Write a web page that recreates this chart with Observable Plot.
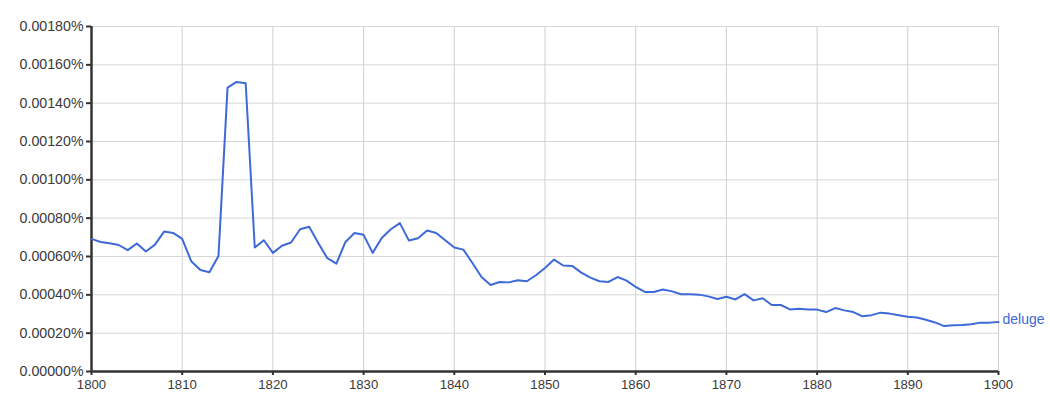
<!DOCTYPE html>
<html>
<head>
<meta charset="utf-8">
<script src="https://cdn.jsdelivr.net/npm/d3@7"></script>
<script src="https://cdn.jsdelivr.net/npm/@observablehq/plot@0.6"></script>
<style>
  html, body { margin: 0; padding: 0; background: #fff; }
  #chart svg { display: block; }
  #chart g[aria-label="x-axis tick label"] text { font-size: 13.2px; fill: #3a3a3a; }
  #chart g[aria-label="y-axis tick label"] text { font-size: 14.2px; fill: #3a3a3a; }
  #chart g[aria-label="text"] text { font-size: 14px; }
</style>
</head>
<body>
<div id="chart"></div>
<script>
const seriesName = "deluge";
const startYear = 1800;
const values = [
  0.000692, 0.000676, 0.000669, 0.000660, 0.000633, 0.000668, 0.000626, 0.000662, 0.000730, 0.000723,
  0.000692, 0.000575, 0.000530, 0.000518, 0.000603, 0.001481, 0.001511, 0.001504, 0.000647, 0.000685,
  0.000619, 0.000656, 0.000673, 0.000742, 0.000755, 0.000671, 0.000591, 0.000563, 0.000676, 0.000723,
  0.000713, 0.000619, 0.000697, 0.000742, 0.000774, 0.000683, 0.000695, 0.000736, 0.000723, 0.000685,
  0.000647, 0.000636, 0.000566, 0.000493, 0.000451, 0.000467, 0.000465, 0.000476, 0.000471, 0.000502,
  0.000540, 0.000584, 0.000553, 0.000551, 0.000516, 0.000490, 0.000471, 0.000467, 0.000493, 0.000474,
  0.000441, 0.000415, 0.000415, 0.000428, 0.000418, 0.000403, 0.000403, 0.000401, 0.000392, 0.000378,
  0.000390, 0.000376, 0.000404, 0.000371, 0.000382, 0.000347, 0.000347, 0.000324, 0.000328, 0.000324,
  0.000323, 0.000310, 0.000331, 0.000319, 0.000310, 0.000288, 0.000294, 0.000307, 0.000302, 0.000294,
  0.000286, 0.000282, 0.000270, 0.000256, 0.000237, 0.000241, 0.000242, 0.000247, 0.000255, 0.000255,
  0.000258
];
const xTicks = [1800, 1810, 1820, 1830, 1840, 1850, 1860, 1870, 1880, 1890, 1900];
const yTicks = [0, 0.0002, 0.0004, 0.0006, 0.0008, 0.0010, 0.0012, 0.0014, 0.0016, 0.0018];

const data = values.map((v, i) => ({year: startYear + i, value: v}));
const last = data[data.length - 1];
const blue = "#3d6ad6";

const chart = Plot.plot({
  width: 1050,
  height: 402,
  marginLeft: 91,
  marginRight: 52,
  marginTop: 26,
  marginBottom: 31,
  style: {fontFamily: "'Liberation Sans', Arial, sans-serif", fontSize: "13.5px", color: "#3a3a3a", background: "#fff"},
  x: {domain: [1800, 1900]},
  y: {domain: [0, 0.0018]},
  marks: [
    Plot.gridX(xTicks, {stroke: "#cfcfcf", strokeOpacity: 1, strokeWidth: 1}),
    Plot.gridY(yTicks, {stroke: "#d6d6d6", strokeOpacity: 1, strokeWidth: 1}),
    Plot.axisX({ticks: xTicks, tickFormat: d => String(d), tickSize: 4, tickPadding: 4, stroke: "#333", strokeWidth: 2, fontSize: 13.2, fill: "#3a3a3a", label: null}),
    Plot.axisY({ticks: yTicks, tickFormat: d => d.toFixed(5) + "%", tickSize: 5, tickPadding: 3, stroke: "#333", strokeWidth: 2, fontSize: 14.2, fill: "#3a3a3a", label: null}),
    Plot.ruleX([1800], {stroke: "#333", strokeWidth: 2.5}),
    Plot.ruleY([0], {stroke: "#333", strokeWidth: 2.5}),
    Plot.line(data, {x: "year", y: "value", stroke: blue, strokeWidth: 2, strokeLinejoin: "round"}),
    Plot.text([last], {x: "year", y: "value", text: () => seriesName, dx: 4, dy: -3, textAnchor: "start", fill: blue, fontSize: 14})
  ]
});
document.getElementById("chart").appendChild(chart);
</script>
</body>
</html>
